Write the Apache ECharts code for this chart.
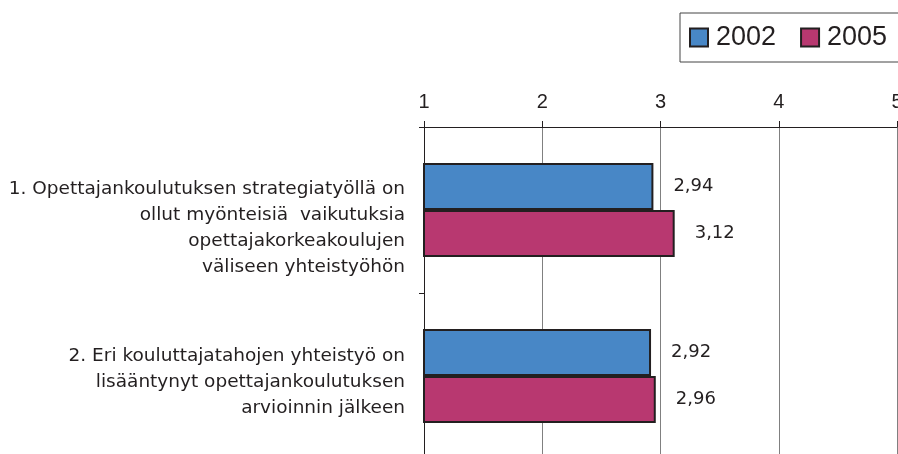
<!DOCTYPE html>
<html>
<head>
<meta charset="utf-8">
<script src="https://cdn.jsdelivr.net/npm/echarts@6/dist/echarts.min.js"></script>
<style>
  html, body { margin: 0; padding: 0; background: #fff; }
  #chart { width: 898px; height: 454px; }
</style>
</head>
<body>
<div id="chart"></div>
<script>
// kategoriat (y-akseli)
var categories = [
  '1. Opettajankoulutuksen strategiatyöllä on\nollut myönteisiä  vaikutuksia\nopettajakorkeakoulujen\nväliseen yhteistyöhön',
  '2. Eri kouluttajatahojen yhteistyö on\nlisääntynyt opettajankoulutuksen\narvioinnin jälkeen'
]
var seriesNames = ['2002', '2005']
var values2002 = [2.94, 2.92]
var values2005 = [3.12, 2.96]
// asteikko 1..5
var scaleMin = 1
var scaleMax = 5
var scaleStep = 1

var textColor = '#231f20'
var arial = '"Liberation Sans", Arial, sans-serif'
var wide = '"DejaVu Sans", Verdana, sans-serif'

var myChart = echarts.init(document.getElementById('chart'))

function commaLabel (p) {
  return p.value.toFixed(2).replace('.', ',')
}

// tyhjä rivi ylös, jotta teksti laskeutuu hieman alemmas kuten alkuperäisessä
function categoryLabel (value, index) {
  var tag = index === 0 ? '{p0|}' : '{p1|}'
  return tag + '\n' + value
}

function barSeries (name, data, color) {
  return {
    name: name,
    type: 'bar',
    data: data,
    barWidth: 47,
    barGap: '0%',
    itemStyle: { color: color, borderColor: textColor, borderWidth: 2 },
    label: {
      show: true,
      position: 'right',
      distance: 20,
      formatter: commaLabel,
      color: textColor,
      fontSize: 18,
      fontFamily: wide
    }
  }
}

myChart.setOption({
  animation: false,
  backgroundColor: '#ffffff',
  legend: {
    data: seriesNames,
    orient: 'horizontal',
    left: 680,
    top: 13,
    width: 260,
    padding: [11, 40, 11, 9],
    borderColor: '#444',
    borderWidth: 1,
    itemWidth: 18,
    itemHeight: 18,
    itemGap: 24,
    icon: 'rect',
    textStyle: { fontSize: 27, color: textColor, fontFamily: arial, padding: [0, 0, 0, 3] }
  },
  grid: {
    left: 424,
    right: 1,
    top: 127,
    height: 332,
    outerBoundsMode: 'none'
  },
  xAxis: {
    type: 'value',
    position: 'top',
    min: scaleMin,
    max: scaleMax,
    interval: scaleStep,
    axisLine: { show: true, lineStyle: { color: textColor, width: 1 } },
    axisTick: { show: true, length: 6, lineStyle: { color: textColor } },
    axisLabel: { fontSize: 20, color: textColor, fontFamily: arial, margin: 15 },
    splitLine: { show: true, lineStyle: { color: '#808080', width: 1 } }
  },
  yAxis: {
    type: 'category',
    inverse: true,
    data: categories,
    axisLine: { show: true, lineStyle: { color: textColor, width: 1 } },
    axisTick: { show: true, length: 5, lineStyle: { color: textColor } },
    axisLabel: {
      fontSize: 18.5,
      lineHeight: 26,
      color: textColor,
      fontFamily: wide,
      align: 'right',
      margin: 19,
      formatter: categoryLabel,
      rich: {
        p0: { lineHeight: 36, fontSize: 1 },
        p1: { lineHeight: 12, fontSize: 1 }
      }
    }
  },
  series: [
    barSeries(seriesNames[0], values2002, '#4887c6'),
    barSeries(seriesNames[1], values2005, '#b83870')
  ]
})
</script>
</body>
</html>
